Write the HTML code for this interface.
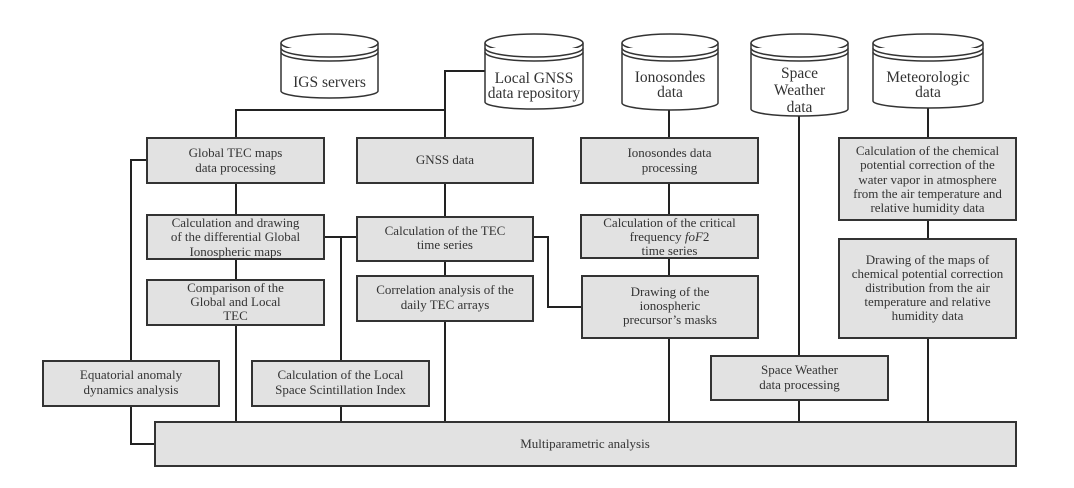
<!DOCTYPE html>
<html><head><meta charset="utf-8"><style>
body{margin:0;background:#fff}
svg{display:block}
text{font-family:"Liberation Serif",serif;fill:#333;text-anchor:middle}
.b{fill:#e2e2e2;stroke:#333;stroke-width:2}
.c{fill:#fff;stroke:#333;stroke-width:1.5}
.l{fill:none;stroke:#222;stroke-width:2}
.t{font-size:13px}
.ct{font-size:15.5px}
</style></head><body>
<svg width="1074" height="488" viewBox="0 0 1074 488" xmlns="http://www.w3.org/2000/svg" font-family="Liberation Serif, serif">
<g class="l">
<polyline points="485,71 445,71 445,138"/>
<polyline points="445,110 236,110 236,138"/>
<line x1="445" y1="183" x2="445" y2="217"/>
<line x1="236" y1="183" x2="236" y2="215"/>
<line x1="236" y1="259" x2="236" y2="280"/>
<line x1="236" y1="325" x2="236" y2="422"/>
<line x1="445" y1="261" x2="445" y2="276"/>
<line x1="445" y1="321" x2="445" y2="422"/>
<line x1="324" y1="237" x2="357" y2="237"/>
<line x1="341" y1="237" x2="341" y2="361"/>
<line x1="341" y1="406" x2="341" y2="422"/>
<polyline points="533,237 548,237 548,307 582,307"/>
<polyline points="147,160 131,160 131,444 155,444"/>
<line x1="669" y1="110" x2="669" y2="138"/>
<line x1="669" y1="183" x2="669" y2="215"/>
<line x1="669" y1="258" x2="669" y2="276"/>
<line x1="669" y1="338" x2="669" y2="422"/>
<line x1="799" y1="116" x2="799" y2="356"/>
<line x1="799" y1="400" x2="799" y2="422"/>
<line x1="928" y1="108" x2="928" y2="138"/>
<line x1="928" y1="220" x2="928" y2="239"/>
<line x1="928" y1="338" x2="928" y2="422"/>
</g>
<g font-family="Liberation Serif, serif">
<path class="c" d="M281,43 V91 A48.5,7 0 0 0 378,91 V43"/>
<ellipse class="c" cx="329.5" cy="43" rx="48.5" ry="9"/>
<path class="c" d="M281,48 A48.5,9 0 0 0 378,48 M281,52 A48.5,9 0 0 0 378,52" fill="none"/>
<text class="ct" style="font-family:'Liberation Serif',serif" x="329.5" y="87">IGS servers</text>

<path class="c" d="M485,43 V102 A49,7 0 0 0 583,102 V43"/>
<ellipse class="c" cx="534" cy="43" rx="49" ry="9"/>
<path class="c" d="M485,48 A49,9 0 0 0 583,48 M485,52 A49,9 0 0 0 583,52" fill="none"/>
<text class="ct" style="font-family:'Liberation Serif',serif" x="534" y="83">Local GNSS</text>
<text class="ct" style="font-family:'Liberation Serif',serif" x="534" y="98">data repository</text>

<path class="c" d="M622,43 V103 A48,7 0 0 0 718,103 V43"/>
<ellipse class="c" cx="670" cy="43" rx="48" ry="9"/>
<path class="c" d="M622,48 A48,9 0 0 0 718,48 M622,52 A48,9 0 0 0 718,52" fill="none"/>
<text class="ct" style="font-family:'Liberation Serif',serif" x="670" y="82">Ionosondes</text>
<text class="ct" style="font-family:'Liberation Serif',serif" x="670" y="97">data</text>

<path class="c" d="M751,43 V109 A48.5,7 0 0 0 848,109 V43"/>
<ellipse class="c" cx="799.5" cy="43" rx="48.5" ry="9"/>
<path class="c" d="M751,48 A48.5,9 0 0 0 848,48 M751,52 A48.5,9 0 0 0 848,52" fill="none"/>
<text class="ct" style="font-family:'Liberation Serif',serif" x="799.5" y="78">Space</text>
<text class="ct" style="font-family:'Liberation Serif',serif" x="799.5" y="95">Weather</text>
<text class="ct" style="font-family:'Liberation Serif',serif" x="799.5" y="112">data</text>

<path class="c" d="M873,43 V101 A55,7 0 0 0 983,101 V43"/>
<ellipse class="c" cx="928" cy="43" rx="55" ry="9"/>
<path class="c" d="M873,48 A55,9 0 0 0 983,48 M873,52 A55,9 0 0 0 983,52" fill="none"/>
<text class="ct" style="font-family:'Liberation Serif',serif" x="928" y="82">Meteorologic</text>
<text class="ct" style="font-family:'Liberation Serif',serif" x="928" y="97">data</text>
</g>
<g class="t" font-family="Liberation Serif, serif">
<rect class="b" x="147" y="138" width="177" height="45"/>
<text x="235.5" y="157">Global TEC maps</text><text x="235.5" y="172">data processing</text>

<rect class="b" x="357" y="138" width="176" height="45"/>
<text x="445" y="164">GNSS data</text>

<rect class="b" x="147" y="215" width="177" height="44"/>
<text x="235.5" y="227">Calculation and drawing</text><text x="235.5" y="241">of the differential Global</text><text x="235.5" y="256">Ionospheric maps</text>

<rect class="b" x="357" y="217" width="176" height="44"/>
<text x="445" y="235">Calculation of the TEC</text><text x="445" y="249">time series</text>

<rect class="b" x="147" y="280" width="177" height="45"/>
<text x="235.5" y="292">Comparison of the</text><text x="235.5" y="306">Global and Local</text><text x="235.5" y="320">TEC</text>

<rect class="b" x="357" y="276" width="176" height="45"/>
<text x="445" y="294">Correlation analysis of the</text><text x="445" y="309">daily TEC arrays</text>

<rect class="b" x="43" y="361" width="176" height="45"/>
<text x="131" y="379">Equatorial anomaly</text><text x="131" y="394">dynamics analysis</text>

<rect class="b" x="252" y="361" width="177" height="45"/>
<text x="340.5" y="379">Calculation of the Local</text><text x="340.5" y="394">Space Scintillation Index</text>

<rect class="b" x="581" y="138" width="177" height="45"/>
<text x="669.5" y="157">Ionosondes data</text><text x="669.5" y="172">processing</text>

<rect class="b" x="581" y="215" width="177" height="43"/>
<text x="669.5" y="227">Calculation of the critical</text><text x="669.5" y="241">frequency <tspan font-style="italic">foF</tspan>2</text><text x="669.5" y="255">time series</text>

<rect class="b" x="582" y="276" width="176" height="62"/>
<text x="670" y="296">Drawing of the</text><text x="670" y="310">ionospheric</text><text x="670" y="324">precursor’s masks</text>

<rect class="b" x="711" y="356" width="177" height="44"/>
<text x="799.5" y="374">Space Weather</text><text x="799.5" y="389">data processing</text>

<rect class="b" x="839" y="138" width="177" height="82"/>
<text x="927.5" y="155">Calculation of the chemical</text><text x="927.5" y="169">potential correction of the</text><text x="927.5" y="184">water vapor in atmosphere</text><text x="927.5" y="198">from the air temperature and</text><text x="927.5" y="212">relative humidity data</text>

<rect class="b" x="839" y="239" width="177" height="99"/>
<text x="927.5" y="264">Drawing of the maps of</text><text x="927.5" y="278">chemical potential correction</text><text x="927.5" y="292">distribution from the air</text><text x="927.5" y="306">temperature and relative</text><text x="927.5" y="320">humidity data</text>

<rect class="b" x="155" y="422" width="861" height="44"/>
<text x="585" y="448">Multiparametric analysis</text>
</g>
</svg>
</body></html>
